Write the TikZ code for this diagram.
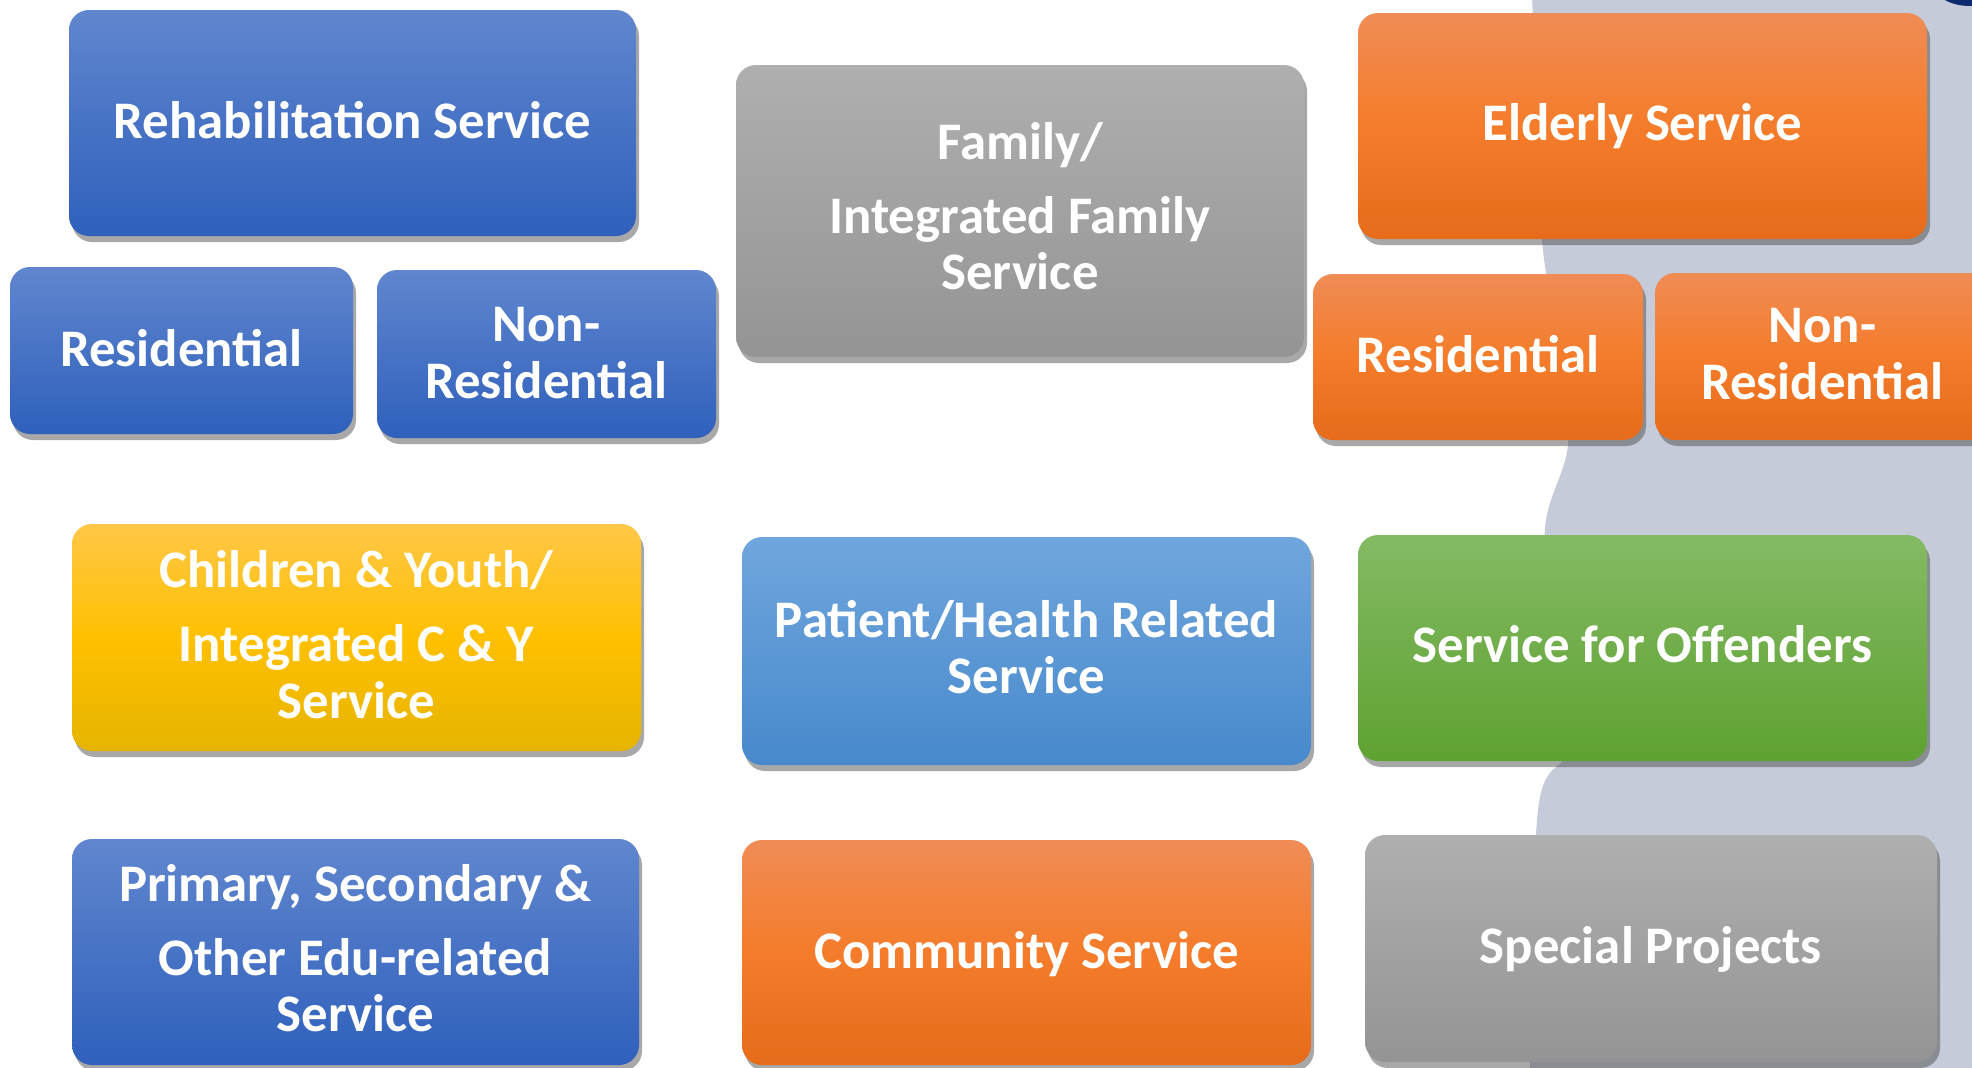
\documentclass[tikz,border=0pt]{standalone}
\usepackage{fontspec}
\setmainfont{Carlito}
\usetikzlibrary{shadows}
\definecolor{bluetop}{RGB}{96,134,206}
\definecolor{bluebot}{RGB}{47,96,188}
\definecolor{graytop}{RGB}{175,175,175}
\definecolor{graybot}{RGB}{148,148,148}
\definecolor{orangetop}{RGB}{240,140,86}
\definecolor{orangemid}{RGB}{244,124,42}
\definecolor{orangebot}{RGB}{230,107,26}
\definecolor{yellowtop}{RGB}{255,199,72}
\definecolor{yellowmid}{RGB}{255,192,0}
\definecolor{yellowbot}{RGB}{230,180,0}
\definecolor{ltbluetop}{RGB}{112,166,221}
\definecolor{ltbluebot}{RGB}{71,137,204}
\definecolor{greentop}{RGB}{132,186,100}
\definecolor{greenbot}{RGB}{94,162,49}
\definecolor{bgshape}{RGB}{197,203,216}
\definecolor{navy}{RGB}{14,42,110}
\begin{document}
\begin{tikzpicture}[x=0.5pt,y=-0.5pt,
  svc/.style={rounded corners=10pt, inner sep=0pt,
    drop shadow={shadow xshift=1.5pt,shadow yshift=-3pt,opacity=0.45,fill=black!75}},
  svctext/.style={inner sep=0pt, align=center, text=white,
    font=\fontsize{26.4}{28.3}\selectfont\bfseries},
  sz/.style 2 args={minimum width=#1*0.5pt, minimum height=#2*0.5pt},
  blueb/.style={top color=bluetop, bottom color=bluebot},
  grayb/.style={top color=graytop, bottom color=graybot},
  orangeb/.style={top color=orangetop, bottom color=orangebot, middle color=orangemid},
  yellowb/.style={top color=yellowtop, bottom color=yellowbot, middle color=yellowmid},
  ltblueb/.style={top color=ltbluetop, bottom color=ltbluebot},
  greenb/.style={top color=greentop, bottom color=greenbot}
]
\useasboundingbox (0,0) rectangle (1972,1067);
\begin{scope}
\clip (0,0) rectangle (1972,1067);
\fill[white] (0,0) rectangle (1972,1067);
\fill[bgshape] plot[smooth, tension=0.6] coordinates {(1532,-5) (1538,150) (1543,250) (1560,360) (1568,445) (1545,528) (1552,640) (1567,747) (1538,810) (1530,1072)}
  -- (1980,1072) -- (1980,-5) -- cycle;
\fill[navy] (1970,-18) ellipse [x radius=38, y radius=24];

\node[svc, blueb, sz={567}{226}] (rehab) at (352.5,123) {};
\node[svctext] (rehab-t) at ([yshift=1.3pt]rehab.center) {Rehabilitation Service};

\node[svc, blueb, sz={343}{167}] (resb) at (181.5,350.5) {};
\node[svctext] (resb-t) at ([yshift=1.3pt]resb.center) {Residential};

\node[svc, blueb, sz={339}{168}] (nonresb) at (546.5,354) {};
\node[svctext] (nonresb-t) at ([yshift=0.6pt]nonresb.center) {Non-\\Residential};

\node[svc, grayb, sz={568}{292}] (family) at (1020,211) {};
\node[svctext] (family-t) at ([yshift=2.5pt]family.center) {Family/\\[8.7pt]Integrated Family\\Service};

\node[svc, orangeb, sz={569}{226}] (elderly) at (1642.5,126) {};
\node[svctext] (elderly-t) at (elderly.center) {Elderly Service};

\node[svc, orangeb, sz={330}{166}] (reso) at (1478,357) {};
\node[svctext] (reso-t) at ([yshift=1.3pt]reso.center) {Residential};

\node[svc, orangeb, sz={335}{167}] (nonreso) at (1822.5,356.5) {};
\node[svctext] (nonreso-t) at ([yshift=1.3pt]nonreso.center) {Non-\\Residential};

\node[svc, yellowb, sz={569}{227}] (children) at (356.5,637.5) {};
\node[svctext] (children-t) at ([yshift=1.3pt]children.center) {Children \& Youth/\\[8.7pt]Integrated C \& Y\\Service};

\node[svc, ltblueb, sz={569}{228}] (patient) at (1026.5,651) {};
\node[svctext] (patient-t) at ([yshift=1.9pt]patient.center) {Patient/Health Related\\Service};

\node[svc, greenb, sz={569}{226}] (offenders) at (1642.5,648) {};
\node[svctext] (offenders-t) at ([yshift=1.9pt]offenders.center) {Service for Offenders};

\node[svc, blueb, sz={567}{226}] (primary) at (355.5,952) {};
\node[svctext] (primary-t) at ([yshift=1.9pt]primary.center) {Primary, Secondary \&\\[8.7pt]Other Edu-related\\Service};

\node[svc, orangeb, sz={569}{225}] (community) at (1026.5,952.5) {};
\node[svctext] (community-t) at ([yshift=-0.6pt]community.center) {Community Service};

\node[svc, grayb, sz={572}{227}] (special) at (1651,948.5) {};
\node[svctext] (special-t) at ([yshift=-0.6pt]special.center) {Special Projects};
\end{scope}
\end{tikzpicture}
\end{document}
